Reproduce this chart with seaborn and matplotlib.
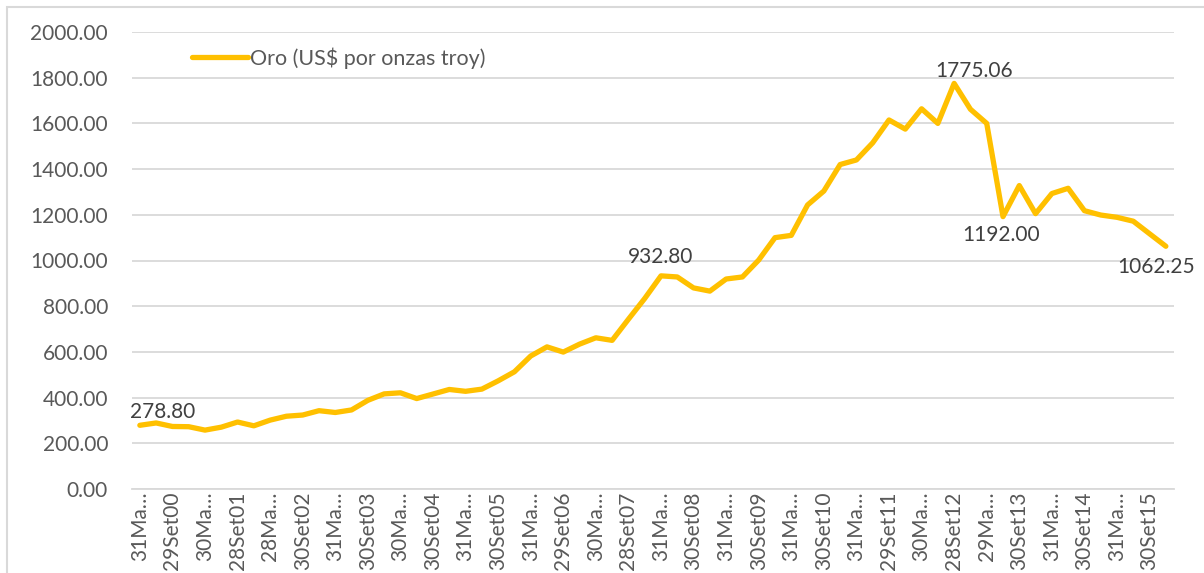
import pandas as pd
import matplotlib
matplotlib.use("Agg")
import matplotlib.pyplot as plt
import seaborn as sns
from matplotlib.patches import Rectangle

# quarterly closing dates (Mar/Jun/Sep/Dec, 2000-2015)
fechas = [
    "31Mar00", "30Jun00", "29Set00", "29Dic00",
    "30Mar01", "29Jun01", "28Set01", "31Dic01",
    "28Mar02", "28Jun02", "30Set02", "31Dic02",
    "31Mar03", "30Jun03", "30Set03", "31Dic03",
    "30Mar04", "30Jun04", "30Set04", "31Dic04",
    "31Mar05", "30Jun05", "30Set05", "30Dic05",
    "31Mar06", "30Jun06", "29Set06", "29Dic06",
    "30Mar07", "29Jun07", "28Set07", "31Dic07",
    "31Mar08", "30Jun08", "30Set08", "31Dic08",
    "31Mar09", "30Jun09", "30Set09", "31Dic09",
    "31Mar10", "30Jun10", "30Set10", "31Dic10",
    "31Mar11", "30Jun11", "29Set11", "30Dic11",
    "30Mar12", "29Jun12", "28Set12", "31Dic12",
    "29Mar13", "28Jun13", "30Set13", "31Dic13",
    "31Mar14", "30Jun14", "30Set14", "31Dic14",
    "31Mar15", "30Jun15", "30Set15", "31Dic15",
]

# gold price, US$ per troy ounce
oro = [
    278.80, 289.00, 273.65, 272.65,
    257.70, 270.60, 293.10, 276.50,
    301.40, 318.50, 323.70, 342.75,
    334.85, 346.00, 388.00, 416.25,
    421.00, 395.80, 415.65, 435.60,
    427.50, 437.10, 473.25, 513.00,
    582.00, 622.00, 599.25, 634.00,
    661.75, 650.50, 743.00, 833.75,
    932.80, 928.00, 880.00, 866.00,
    919.00, 928.00, 1002.00, 1100.00,
    1110.00, 1243.00, 1304.00, 1420.00,
    1440.00, 1515.00, 1615.00, 1575.00,
    1664.00, 1600.00, 1775.06, 1662.00,
    1600.00, 1192.00, 1328.00, 1205.00,
    1293.00, 1316.00, 1218.00, 1199.00,
    1189.00, 1172.00, 1117.00, 1062.25,
]

# labels shown on the axis (every second quarter, as truncated in the chart)
etiquetas = [
    "31Ma…", "29Set00", "30Ma…", "28Set01", "28Ma…", "30Set02",
    "31Ma…", "30Set03", "30Ma…", "30Set04", "31Ma…", "30Set05",
    "31Ma…", "29Set06", "30Ma…", "28Set07", "31Ma…", "30Set08",
    "31Ma…", "30Set09", "31Ma…", "30Set10", "31Ma…", "29Set11",
    "30Ma…", "28Set12", "29Ma…", "30Set13", "31Ma…", "30Set14",
    "31Ma…", "30Set15",
]

# data labels: (index, pixel offset x, pixel offset y)
rotulos = [(0, 23, 13), (32, 0, 19), (50, 20, 12), (53, -2, -18), (63, -10, -21)]

sns.set_style("white")
plt.rcParams["font.family"] = ["Lato", "DejaVu Sans"]

df = pd.DataFrame({"Fecha": fechas, "Oro": oro})

W, H = 1204, 573
fig = plt.figure(figsize=(W / 100, H / 100), dpi=100)
ax = fig.add_axes([131.7 / W, (H - 489) / H, (1174 - 131.7) / W, 457 / H])

sns.lineplot(data=df, x="Fecha", y="Oro", sort=False, color="#FFC000",
             linewidth=3.8, ax=ax, label="Oro (US$ por onzas troy)")

ax.set_xlim(-0.5, len(fechas) - 0.5)
ax.set_ylim(0, 2000)
ax.set_yticks(range(0, 2001, 200))
ax.set_yticklabels([f"{v:.2f}" for v in range(0, 2001, 200)])
ax.set_xticks(range(0, len(fechas), 2))
ax.set_xticklabels(etiquetas, rotation=90, va="top", ha="center")
ax.tick_params(axis="y", length=0, pad=17, labelsize=15, labelcolor="#595959")
ax.tick_params(axis="x", length=0, pad=2, labelsize=15, labelcolor="#595959")
ax.set_xlabel("")
ax.set_ylabel("")
ax.grid(axis="y", color="#D9D9D9", linewidth=1.3)
ax.set_axisbelow(True)
for s in ["left", "right", "top"]:
    ax.spines[s].set_visible(False)
ax.spines["bottom"].set_color("#D9D9D9")
ax.spines["bottom"].set_linewidth(1.3)

for i, dx, dy in rotulos:
    ax.annotate(f"{oro[i]:.2f}", (i, oro[i]), xytext=(dx * 0.72, dy * 0.72),
                textcoords="offset points", ha="center", va="center",
                fontsize=15, color="#404040")

leg = ax.legend(loc="upper left", bbox_to_anchor=(52 / (1174 - 131.7), 0.985),
                frameon=False, fontsize=15.5, handlelength=2.6, handletextpad=0.1,
                borderaxespad=0)
for t in leg.get_texts():
    t.set_color("#595959")

fig.patches.append(Rectangle((7 / W, -0.1), 1.2, (H - 7) / H + 0.1,
                             transform=fig.transFigure, fill=False,
                             edgecolor="#D9D9D9", linewidth=1.5))

fig.savefig("out.png", dpi=100)
